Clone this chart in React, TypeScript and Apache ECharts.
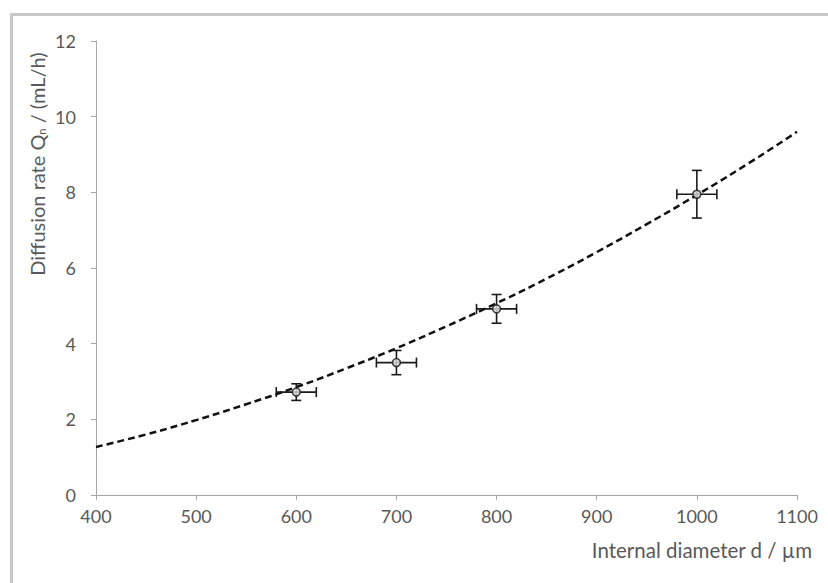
import React, { useEffect, useRef } from "react";
import * as echarts from "echarts";

// Measured points: internal diameter (µm), diffusion rate (mL/h), x error, y error
const diameters = [600, 700, 800, 1000];
const rates = [2.72, 3.5, 4.92, 7.95];
const diameterErr = [20, 20, 20, 20];
const rateErr = [0.22, 0.32, 0.38, 0.63];

// Fitted trend curve
const fitX = [400, 450, 500, 550, 600, 650, 700, 750, 800, 850, 900, 950, 1000, 1050, 1100];
const fitY = [1.27, 1.6, 1.98, 2.4, 2.85, 3.35, 3.88, 4.46, 5.07, 5.72, 6.42, 7.16, 7.93, 8.74, 9.6];

const xTicks = { min: 400, max: 1100, interval: 100 };
const yTicks = { min: 0, max: 12, interval: 2 };

const FONT = "Lato";
const LABEL = "#595959";
const AXIS = "#a6a6a6";

export default function App() {
  const ref = useRef<HTMLDivElement>(null);
  useEffect(() => {
    if (!ref.current) return;
    const chart = echarts.init(ref.current, undefined, { renderer: "svg" });
    const points = diameters.map((d, i) => [d, rates[i], diameterErr[i], rateErr[i]]);
    chart.setOption({
      animation: false,
      backgroundColor: "#ffffff",
      grid: { left: 96, right: 31, top: 41, bottom: 88 },
      xAxis: {
        type: "value",
        min: xTicks.min,
        max: xTicks.max,
        interval: xTicks.interval,
        name: "Internal diameter d / µm",
        nameLocation: "end",
        nameGap: 15,
        nameTextStyle: {
          color: LABEL,
          fontFamily: FONT,
          fontSize: 20.5,
          align: "right",
          verticalAlign: "top",
          padding: [44, 0, 0, 0],
        },
        axisLine: { show: true, lineStyle: { color: AXIS, width: 1 } },
        axisTick: { show: true, length: 5, lineStyle: { color: AXIS } },
        axisLabel: {
          color: LABEL,
          fontFamily: FONT,
          fontSize: 18,
          margin: 12,
          formatter: (v: number) => String(v),
        },
        splitLine: { show: false },
      },
      yAxis: {
        type: "value",
        min: yTicks.min,
        max: yTicks.max,
        interval: yTicks.interval,
        axisLine: { show: true, lineStyle: { color: AXIS, width: 1 } },
        axisTick: { show: true, length: 5, lineStyle: { color: AXIS } },
        axisLabel: {
          color: LABEL,
          fontFamily: FONT,
          fontSize: 18,
          margin: 20,
          formatter: (v: number) => String(v),
        },
        splitLine: { show: false },
      },
      graphic: [
        {
          type: "line",
          shape: { x1: 11.5, y1: 14.5, x2: 828, y2: 14.5 },
          style: { stroke: "#c8c8c8", lineWidth: 3 },
          silent: true,
        },
        {
          type: "line",
          shape: { x1: 11.5, y1: 13, x2: 11.5, y2: 583 },
          style: { stroke: "#c8c8c8", lineWidth: 3 },
          silent: true,
        },
        {
          type: "text",
          x: 37,
          y: 164,
          rotation: Math.PI / 2,
          style: {
            text: "Diffusion rate Q{sub|n} / (mL/h)",
            fill: LABEL,
            font: `20px ${FONT}`,
            align: "center",
            verticalAlign: "middle",
            rich: {
              sub: { fontSize: 11, fontFamily: FONT, fill: LABEL, verticalAlign: "bottom", padding: [9, 0, 0, 0] },
            },
          },
          silent: true,
        },
      ],
      series: [
        {
          type: "line",
          data: fitX.map((x, i) => [x, fitY[i]]),
          smooth: true,
          showSymbol: false,
          symbol: "none",
          lineStyle: { color: "#111", width: 2.5, type: [7, 4] },
          z: 2,
        },
        {
          type: "custom",
          data: points,
          z: 3,
          renderItem: (params: any, api: any) => {
            const x = api.value(0);
            const y = api.value(1);
            const dx = api.value(2);
            const dy = api.value(3);
            const left = api.coord([x - dx, y]);
            const right = api.coord([x + dx, y]);
            const top = api.coord([x, y + dy]);
            const bottom = api.coord([x, y - dy]);
            const cap = 5;
            const style = { stroke: "#1a1a1a", lineWidth: 1.6 };
            return {
              type: "group",
              children: [
                { type: "line", shape: { x1: left[0], y1: left[1], x2: right[0], y2: right[1] }, style },
                { type: "line", shape: { x1: top[0], y1: top[1], x2: bottom[0], y2: bottom[1] }, style },
                { type: "line", shape: { x1: left[0], y1: left[1] - cap, x2: left[0], y2: left[1] + cap }, style },
                { type: "line", shape: { x1: right[0], y1: right[1] - cap, x2: right[0], y2: right[1] + cap }, style },
                { type: "line", shape: { x1: top[0] - cap, y1: top[1], x2: top[0] + cap, y2: top[1] }, style },
                { type: "line", shape: { x1: bottom[0] - cap, y1: bottom[1], x2: bottom[0] + cap, y2: bottom[1] }, style },
              ],
            };
          },
        },
        {
          type: "scatter",
          data: diameters.map((d, i) => [d, rates[i]]),
          symbol: "circle",
          symbolSize: 8,
          itemStyle: { color: "#e0e0e0", borderColor: "#1a1a1a", borderWidth: 1.6 },
          z: 4,
        },
      ],
    });
    return () => chart.dispose();
  }, []);
  return <div ref={ref} style={{ width: 828, height: 583, position: "absolute", left: 0, top: 0 }} />;
}
